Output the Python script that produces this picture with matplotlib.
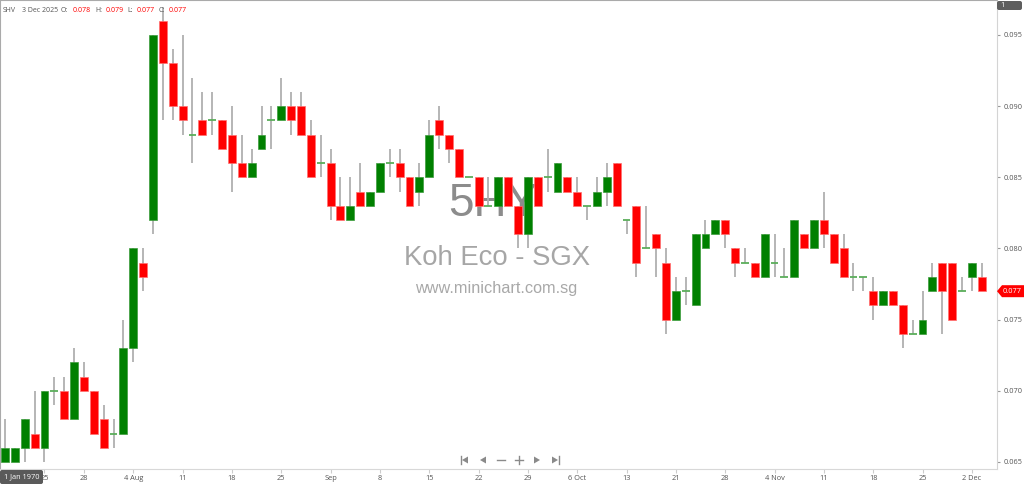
import matplotlib
matplotlib.use("Agg")
import matplotlib.pyplot as plt
from matplotlib.patches import Polygon, FancyBboxPatch
from matplotlib.lines import Line2D
from matplotlib.transforms import IdentityTransform

# ---- data (SGX:5HY, daily) ----
ticker = "SHV"
last_date = "3 Dec 2025"

opens = [0.065, 0.065, 0.066, 0.067, 0.066, 0.070, 0.070, 0.068, 0.071, 0.070,
         0.068, 0.067, 0.067, 0.073, 0.079, 0.082, 0.096, 0.093, 0.090, 0.088,
         0.089, 0.089, 0.089, 0.088, 0.086, 0.085, 0.087, 0.089, 0.089, 0.090,
         0.090, 0.088, 0.086, 0.086, 0.083, 0.082, 0.084, 0.083, 0.084, 0.086,
         0.086, 0.085, 0.084, 0.085, 0.089, 0.088, 0.087, 0.085, 0.085, 0.083,
         0.083, 0.085, 0.083, 0.081, 0.085, 0.085, 0.084, 0.085, 0.084, 0.083,
         0.083, 0.084, 0.086, 0.082, 0.083, 0.080, 0.081, 0.079, 0.075, 0.077,
         0.076, 0.080, 0.081, 0.082, 0.080, 0.079, 0.079, 0.078, 0.079, 0.078,
         0.078, 0.081, 0.080, 0.082, 0.081, 0.080, 0.078, 0.078, 0.077, 0.076,
         0.077, 0.076, 0.074, 0.074, 0.077, 0.079, 0.079, 0.077, 0.078, 0.078]
highs = [0.068, 0.066, 0.068, 0.070, 0.070, 0.071, 0.071, 0.073, 0.072, 0.070,
         0.069, 0.068, 0.075, 0.080, 0.080, 0.095, 0.097, 0.094, 0.095, 0.092,
         0.091, 0.091, 0.089, 0.090, 0.088, 0.087, 0.090, 0.090, 0.092, 0.091,
         0.091, 0.089, 0.088, 0.087, 0.085, 0.085, 0.086, 0.084, 0.086, 0.087,
         0.087, 0.085, 0.086, 0.089, 0.090, 0.088, 0.087, 0.085, 0.085, 0.085,
         0.085, 0.085, 0.083, 0.085, 0.085, 0.087, 0.086, 0.085, 0.085, 0.083,
         0.085, 0.086, 0.086, 0.082, 0.083, 0.083, 0.081, 0.080, 0.078, 0.078,
         0.081, 0.082, 0.082, 0.082, 0.080, 0.080, 0.079, 0.081, 0.081, 0.080,
         0.082, 0.081, 0.082, 0.084, 0.081, 0.081, 0.079, 0.078, 0.078, 0.077,
         0.077, 0.076, 0.075, 0.077, 0.079, 0.079, 0.079, 0.078, 0.079, 0.079]
lows = [0.065, 0.065, 0.065, 0.066, 0.065, 0.069, 0.068, 0.068, 0.070, 0.067,
        0.066, 0.066, 0.067, 0.072, 0.077, 0.081, 0.089, 0.089, 0.088, 0.086,
        0.088, 0.088, 0.087, 0.084, 0.085, 0.085, 0.087, 0.087, 0.089, 0.088,
        0.088, 0.085, 0.085, 0.082, 0.082, 0.082, 0.083, 0.083, 0.084, 0.085,
        0.084, 0.083, 0.083, 0.085, 0.087, 0.086, 0.085, 0.085, 0.083, 0.083,
        0.083, 0.083, 0.080, 0.080, 0.083, 0.084, 0.084, 0.084, 0.083, 0.082,
        0.083, 0.083, 0.083, 0.081, 0.078, 0.080, 0.078, 0.074, 0.075, 0.076,
        0.076, 0.080, 0.081, 0.080, 0.078, 0.079, 0.078, 0.078, 0.078, 0.078,
        0.078, 0.080, 0.080, 0.080, 0.079, 0.078, 0.077, 0.077, 0.075, 0.076,
        0.076, 0.073, 0.074, 0.074, 0.077, 0.074, 0.075, 0.077, 0.077, 0.077]
closes = [0.066, 0.066, 0.068, 0.066, 0.070, 0.070, 0.068, 0.072, 0.070, 0.067,
          0.066, 0.067, 0.073, 0.080, 0.078, 0.095, 0.093, 0.090, 0.089, 0.088,
          0.088, 0.089, 0.087, 0.086, 0.085, 0.086, 0.088, 0.089, 0.090, 0.089,
          0.088, 0.085, 0.086, 0.083, 0.082, 0.083, 0.083, 0.084, 0.086, 0.086,
          0.085, 0.083, 0.085, 0.088, 0.088, 0.087, 0.085, 0.085, 0.083, 0.083,
          0.085, 0.083, 0.081, 0.085, 0.083, 0.085, 0.086, 0.084, 0.083, 0.083,
          0.084, 0.085, 0.083, 0.082, 0.079, 0.080, 0.080, 0.075, 0.077, 0.077,
          0.081, 0.081, 0.082, 0.081, 0.079, 0.079, 0.078, 0.081, 0.079, 0.078,
          0.082, 0.080, 0.082, 0.081, 0.079, 0.078, 0.078, 0.078, 0.076, 0.077,
          0.076, 0.074, 0.074, 0.075, 0.078, 0.077, 0.075, 0.077, 0.079, 0.077]

tick_pos = [4, 8, 13, 18, 23, 28, 33, 38, 43, 48, 53, 58, 63, 68, 73, 78, 83, 88, 93, 98]
tick_labels = ["25", "28", "4 Aug", "11", "18", "25", "Sep", "8", "15", "22", "29",
               "6 Oct", "13", "21", "28", "4 Nov", "11", "18", "25", "2 Dec"]
price_ticks = [0.065, 0.070, 0.075, 0.080, 0.085, 0.090, 0.095]

W, H = 1024, 484
UP = "#008000"
DOWN = "#ff0000"
DOJI = "#5aae5a"
WICK = "#b0b0b0"
SMALL = "Open Sans"


def fx(x, y):
    """pixel (from top-left) -> figure fraction"""
    return x / W, 1 - y / H


fig = plt.figure(figsize=(W / 100, H / 100), dpi=100)
ax = fig.add_axes([0, 15 / H, 997 / W, 1 - 15 / H])
ax.set_xlim(-0.507, 100.55)
ax.set_ylim(0.064507, 0.097459)

n = len(closes)
idx = list(range(n))

# wicks
ax.vlines(idx, lows, highs, color=WICK, lw=1.3, zorder=2)

# bodies
bw = 0.8
for i in idx:
    o, c = opens[i], closes[i]
    if c > o:
        ax.bar(i, c - o, bottom=o, width=bw, color=UP, edgecolor="#3c9c3c", lw=0.5, zorder=3)
    elif c < o:
        ax.bar(i, o - c, bottom=c, width=bw, color=DOWN, edgecolor="#ff7070", lw=0.5, zorder=3)
    else:
        ax.hlines(c, i - bw / 2, i + bw / 2, color=DOJI, lw=1.3, zorder=3)

# axes look
for s in ["top", "left"]:
    ax.spines[s].set_color("#aaaaaa")
    ax.spines[s].set_linestyle((0, (1, 1)))
    ax.spines[s].set_linewidth(0.8)
ax.spines["right"].set_color("#d4d4d4")
ax.spines["bottom"].set_color("#d8d8d8")
ax.spines["right"].set_linewidth(0.8)
ax.spines["bottom"].set_linewidth(0.8)

ax.set_xticks(tick_pos, tick_labels, fontfamily=SMALL)
ax.tick_params(axis="x", length=3, color="#cccccc", pad=1.5, labelsize=5.3, labelcolor="#555555")
ax.yaxis.tick_right()
ax.set_yticks(price_ticks, [f"{p:.3f}" for p in price_ticks], fontfamily=SMALL)
ax.tick_params(axis="y", length=2, color="#999999", pad=3, labelsize=5.3, labelcolor="#555555")

# watermark (behind the candles)
wm = "Liberation Sans"
fig.text(*fx(493, 204), "5HY", fontsize=33, color="#8c8c8c", family=wm, ha="center", va="center", zorder=0)
fig.text(*fx(497, 258), "Koh Eco - SGX", fontsize=19.8, color="#a6a6a6", family=wm, ha="center", va="center", zorder=0)
fig.text(*fx(496, 289), "www.minichart.com.sg", fontsize=11.7, color="#a8a8a8", family=wm, ha="center", va="center", zorder=0)
ax.set_zorder(1)
ax.patch.set_alpha(0)

# header (OHLC of last bar)
hdr = [(3, ticker, "#555555"), (22, last_date, "#555555"),
       (61, "O:", "#555555"), (73, f"{opens[-1]:.3f}", DOWN),
       (95, "H:", "#555555"), (106, f"{highs[-1]:.3f}", DOWN),
       (127, "L:", "#555555"), (137, f"{lows[-1]:.3f}", DOWN),
       (159, "C:", "#555555"), (169, f"{closes[-1]:.3f}", DOWN)]
for x, t, col in hdr:
    fig.text(*fx(x, 10.5), t, fontsize=5.0, color=col, family=SMALL, va="center", zorder=5)

# last price tag on the right axis
fig.canvas.draw()
_, ylast = ax.transData.transform((0, closes[-1]))
x0 = 997
tag = Polygon([(x0, ylast), (x0 + 5, ylast + 6), (W, ylast + 6), (W, ylast - 6), (x0 + 5, ylast - 6)],
              closed=True, transform=IdentityTransform(), facecolor=DOWN, edgecolor="none", zorder=6)
fig.patches.append(tag)
fig.text((x0 + 6) / W, ylast / H, f"{closes[-1]:.3f}", fontsize=5.3, color="white",
         family=SMALL, va="center", ha="left", zorder=7)

# "1" box top-right
box1 = FancyBboxPatch((997, H - 10), 25, 9, boxstyle="round,pad=0,rounding_size=2",
                      transform=IdentityTransform(), facecolor="#5e5e5e", edgecolor="none", zorder=6)
fig.patches.append(box1)
fig.text(*fx(1000, 5.5), "1", fontsize=5.3, color="white", family=SMALL, va="center", zorder=7)

# crosshair date box bottom-left
box2 = FancyBboxPatch((0, 0), 43, 14, boxstyle="round,pad=0,rounding_size=2",
                      transform=IdentityTransform(), facecolor="#5a5a5a", edgecolor="none", zorder=6)
fig.patches.append(box2)
fig.text(*fx(21.5, 477), "1 Jan 1970", fontsize=5.3, color="white", family=SMALL,
         ha="center", va="center", zorder=7)

# navigation buttons
nav_col = "#8a8a8a"
ny = H - 460
for xc, kind in [(465, "first"), (483, "prev"), (501, "minus"), (519, "plus"), (537, "next"), (555, "last")]:
    if kind in ("first", "prev"):
        tri = [(xc - 3, ny), (xc + 3, ny + 3.5), (xc + 3, ny - 3.5)]
    elif kind in ("next", "last"):
        tri = [(xc + 3, ny), (xc - 3, ny + 3.5), (xc - 3, ny - 3.5)]
    else:
        tri = None
    if tri:
        fig.patches.append(Polygon(tri, closed=True, transform=IdentityTransform(),
                                   facecolor=nav_col, edgecolor="none"))
    if kind == "first":
        fig.lines.append(Line2D([xc - 4, xc - 4], [ny - 4, ny + 4], transform=IdentityTransform(), color=nav_col, lw=1))
    if kind == "last":
        fig.lines.append(Line2D([xc + 4, xc + 4], [ny - 4, ny + 4], transform=IdentityTransform(), color=nav_col, lw=1))
    if kind in ("minus", "plus"):
        fig.lines.append(Line2D([xc - 4, xc + 4], [ny, ny], transform=IdentityTransform(), color=nav_col, lw=1))
    if kind == "plus":
        fig.lines.append(Line2D([xc, xc], [ny - 4, ny + 4], transform=IdentityTransform(), color=nav_col, lw=1))

fig.savefig("out.png", dpi=100, facecolor="white")
